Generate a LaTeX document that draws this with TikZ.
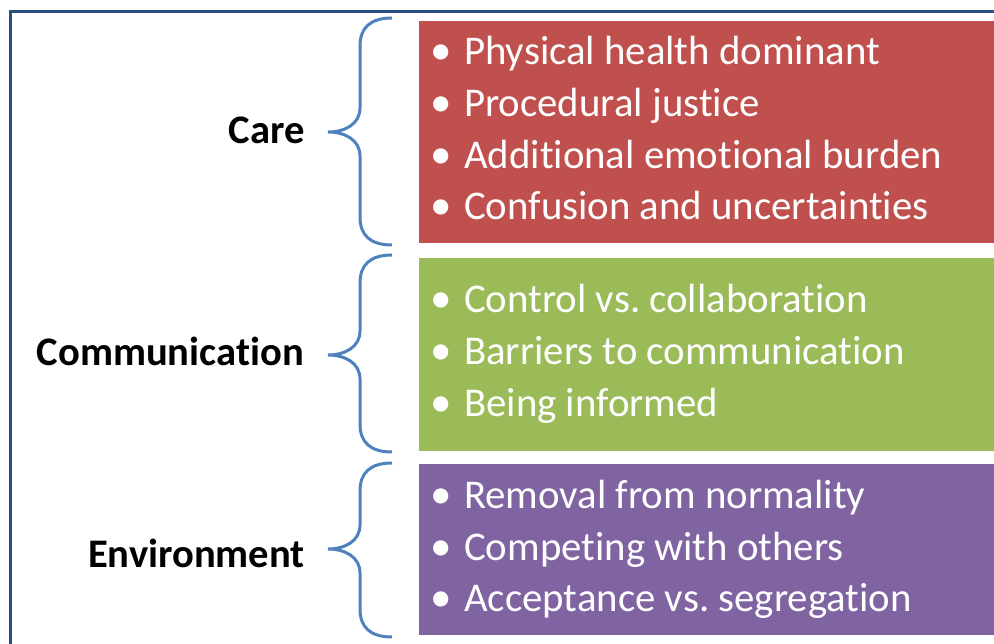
\documentclass[tikz,border=0pt]{standalone}
\usepackage{fontspec}
\setmainfont[Ligatures={NoCommon,NoRequired,NoContextual}]{Carlito}
\frenchspacing
\definecolor{framecol}{HTML}{2B4F7F}
\definecolor{bracecol}{HTML}{4F81BD}
\definecolor{carered}{HTML}{C0504D}
\definecolor{commgreen}{HTML}{9BBB59}
\definecolor{envpurple}{HTML}{8064A2}
\newcommand{\mybrace}[3]{%
  \draw[bracecol,line width=3pt] (392,#1) .. controls (370,#1) and (360,#1+10) .. (360,#1+28)
    -- (360,#2-24) .. controls (360,#2-8) and (345,#2) .. (328,#2)
    .. controls (345,#2) and (360,#2+8) .. (360,#2+24)
    -- (360,#3-28) .. controls (360,#3-10) and (370,#3) .. (392,#3);}
\begin{document}
\begin{tikzpicture}[x=1pt,y=-1pt,
  catlabel/.style={anchor=base east,inner sep=0pt,font=\fontsize{40.6}{48}\selectfont\bfseries,text=black},
  itemtext/.style={anchor=base west,inner sep=0pt,font=\fontsize{40.8}{48}\selectfont,text=white},
  bulletdot/.style={anchor=base,inner sep=0pt,font=\fontsize{43}{48}\selectfont,text=white},
  panel/.style={anchor=north west,inner sep=0pt,minimum width=#1}]
\useasboundingbox (0,0) rectangle (994,644);
\fill[white] (0,0) rectangle (994,644);
% frame
\draw[framecol,line width=3pt] (10.5,700) -- (10.5,12) -- (1000,12);
% panels
\fill[carered] (419,21) rectangle (1000,243);
\fill[commgreen] (419,258) rectangle (1000,451);
\fill[envpurple] (419,464) rectangle (1000,635);
\node[panel=1pt] (carebox) at (419,21) {};
\node[panel=1pt] (commbox) at (419,258) {};
\node[panel=1pt] (envbox) at (419,464) {};
% braces
\mybrace{18}{132}{245}
\mybrace{255}{355}{452}
\mybrace{463}{549}{637}
% labels
\node[catlabel] (care) at (305,144) {Care};
\node[catlabel] (comm) at (304,366) {Communication};
\node[catlabel] (env) at (305,567) {Environment};
% care items
\foreach \y/\t [count=\i] in {65/Physical health dominant,117/Procedural justice,169/Additional emotional burden,220/Confusion and uncertainties}{
  \node[bulletdot] (cb\i) at (441,\y) {•};
  \node[itemtext] (ct\i) at (464,\y) {\t};
}
\foreach \y/\t [count=\i] in {313/Control vs. collaboration,365/Barriers to communication,417/Being informed}{
  \node[bulletdot] (gb\i) at (441,\y) {•};
  \node[itemtext] (gt\i) at (464,\y) {\t};
}
\foreach \y/\t [count=\i] in {508/Removal from normality,560/Competing with others,611/Acceptance vs. segregation}{
  \node[bulletdot] (pb\i) at (441,\y) {•};
  \node[itemtext] (pt\i) at (464,\y) {\t};
}
\end{tikzpicture}
\end{document}
